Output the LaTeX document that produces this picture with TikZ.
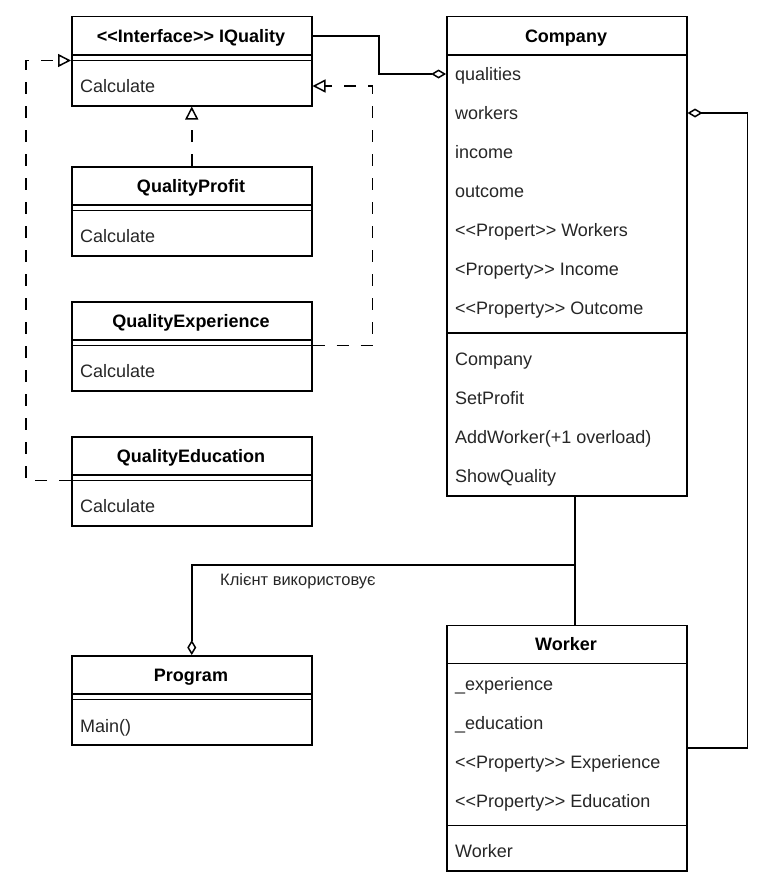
\documentclass[tikz,border=0pt]{standalone}
\usepackage{fontspec}
\setmainfont{Liberation Sans}
\usetikzlibrary{arrows.meta,calc}
\newcommand\mydsep[1]{%
  \draw[sep] ($(#1.north west)+(0,39)$) -- ($(#1.north east)+(0,39)$);
  \draw[sep] ($(#1.north west)+(0,44.5)$) -- ($(#1.north east)+(0,44.5)$);}
\newcommand\myopen{<\kern0pt<}
\newcommand\myclose{>\kern0pt>}
\begin{document}
\begin{tikzpicture}[x=1pt,y=-1pt,
 cls/.style={draw, line width=1.5pt, minimum width=240pt, anchor=north west, inner sep=0},
 sep/.style={line width=1.5pt},
 ttl/.style={font=\fontsize{18}{22}\selectfont\bfseries, inner sep=0, text height=12.9pt, text depth=0pt},
 fld/.style={font=\fontsize{18}{22}\selectfont, inner sep=0, text height=12.9pt, text depth=0pt, anchor=west, text=black!85},
 lbl/.style={font=\fontsize{16.5}{20}\selectfont, inner sep=0, text height=11.8pt, text depth=0pt, anchor=west, text=black!85},
 agg/.style={line width=1.5pt, {Diamond[open,length=15pt,width=9pt]}-},
 real/.style={line width=1.5pt, dash pattern=on 12pt off 12pt, -{Triangle[open,length=13pt,width=13pt]}},
 conn/.style={line width=1.5pt},
]
\useasboundingbox (0,0) rectangle (774,891);

% IQuality
\node[cls, minimum height=89pt] (iq) at (71,16) {};
\node[ttl] (iqt) at (191,36) {\myopen Interface\myclose{} IQuality};
\mydsep{iq}
\node[fld] (iqc) at (80,86) {Calculate};

% QualityProfit
\node[cls, minimum height=89pt] (qp) at (71,166) {};
\node[ttl] (qpt) at (191,186) {QualityProfit};
\mydsep{qp}
\node[fld] (qpc) at (80,236) {Calculate};

% QualityExperience
\node[cls, minimum height=89pt] (qe) at (71,301) {};
\node[ttl] (qet) at (191,321) {QualityExperience};
\mydsep{qe}
\node[fld] (qec) at (80,371) {Calculate};

% QualityEducation
\node[cls, minimum height=89pt] (qd) at (71,436) {};
\node[ttl] (qdt) at (191,456) {QualityEducation};
\mydsep{qd}
\node[fld] (qdc) at (80,506) {Calculate};

% Program
\node[cls, minimum height=89pt] (prog) at (71,655) {};
\node[ttl] (progt) at (191,675) {Program};
\mydsep{prog}
\node[fld] (progm) at (80,726) {Main()};

% Company
\node[cls, minimum height=479pt] (comp) at (446,16) {};
\node[ttl] (compt) at (566,36) {Company};
\draw[sep] ($(comp.north west)+(0,39)$) -- ($(comp.north east)+(0,39)$);
\node[fld] (cf1) at (455,74) {qualities};
\node[fld] (cf2) at (455,113) {workers};
\node[fld] (cf3) at (455,152) {income};
\node[fld] (cf4) at (455,191) {outcome};
\node[fld] (cf5) at (455,230) {\myopen Propert\myclose{} Workers};
\node[fld] (cf6) at (455,269) {<Property\myclose{} Income};
\node[fld] (cf7) at (455,308) {\myopen Property\myclose{} Outcome};
\draw[sep] ($(comp.north west)+(0,317)$) -- ($(comp.north east)+(0,317)$);
\node[fld] (cm1) at (455,359) {Company};
\node[fld] (cm2) at (455,398) {SetProfit};
\node[fld] (cm3) at (455,437) {AddWorker(+1 overload)};
\node[fld] (cm4) at (455,476) {ShowQuality};

% Worker
\node[cls, minimum height=245.5pt] (wk) at (446,624.5) {};
\node[ttl] (wkt) at (566,644.5) {Worker};
\draw[sep] ($(wk.north west)+(0,39)$) -- ($(wk.north east)+(0,39)$);
\node[fld] (wf1) at (455,684) {\_experience};
\node[fld] (wf2) at (455,723) {\_education};
\node[fld] (wf3) at (455,762) {\myopen Property\myclose{} Experience};
\node[fld] (wf4) at (455,801) {\myopen Property\myclose{} Education};
\draw[sep] ($(wk.north west)+(0,201)$) -- ($(wk.north east)+(0,201)$);
\node[fld] (wm1) at (455,851) {Worker};

% connectors
\draw[agg] (cf1 -| comp.west) -- ++(-67,0) |- (iqt -| iq.east);
\draw[agg] (cf2 -| comp.east) -- ++(60,0) |- (wk.east);
\coordinate (jn) at (575,565);
\draw[conn] (comp.south -| jn) -- (wk.north -| jn);
\draw[agg] (prog.north) |- (jn);
\node[lbl] (lb) at (220,580) {Клієнт використовує};

\draw[real] (qp.north) -- (iq.south);
\draw[real] ($(qe.north east)+(0,44.5)$) -- ++(60,0) |- (iqc -| iq.east);
\draw[real] ($(qd.north west)+(0,44.5)$) -- ++(-45,0) |- ($(iq.north west)+(0,44.5)$);
\end{tikzpicture}
\end{document}
